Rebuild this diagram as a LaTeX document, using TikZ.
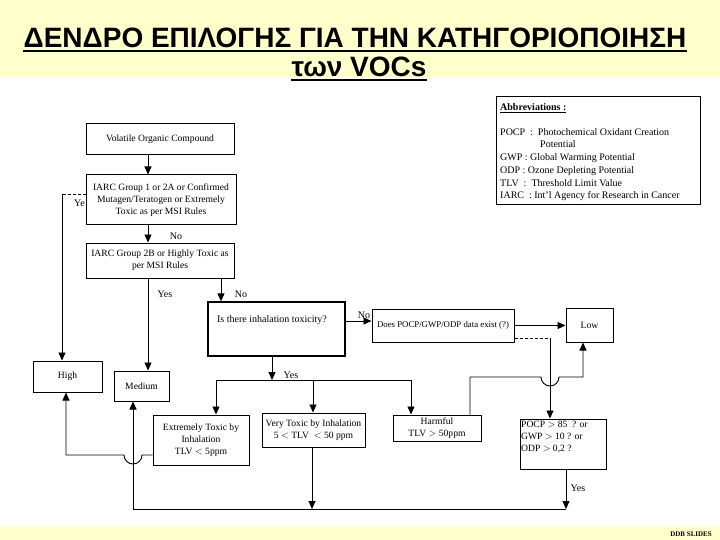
\documentclass[tikz,border=0pt]{standalone}
\usepackage{fontspec}
\setmainfont{Liberation Serif}
\newfontfamily\titlefont{Liberation Sans}
\usetikzlibrary{arrows.meta}
\definecolor{yellowbg}{HTML}{FFFFCC}
\begin{document}
\begin{tikzpicture}[x=1pt,y=-1pt,
  box/.style={draw, line width=1pt, fill=white, inner sep=1pt, align=center, font=\fontsize{9.6}{11.8}\selectfont},
  lab/.style={font=\fontsize{10}{11}\selectfont, inner sep=0pt},
  conn/.style={line width=0.9pt},
  arr/.style={conn, -{Triangle[length=8pt,width=7pt]}},
  abb/.style={anchor=base west, inner sep=0pt, font=\fontsize{10}{12}\selectfont},
  ttl/.style={anchor=base, inner sep=0pt, font=\titlefont\bfseries\fontsize{28}{30}\selectfont}]
\useasboundingbox (0,0) rectangle (720,540);
\fill[yellowbg] (0,0) rectangle (720,77);
\fill[yellowbg] (0,526) rectangle (720,540);
% title
\node[ttl] (t1) at (355,48) {ΔΕΝΔΡΟ ΕΠΙΛΟΓΗΣ ΓΙΑ ΤΗΝ ΚΑΤΗΓΟΡΙΟΠΟΙΗΣΗ};
\node[ttl] (t2) at (359,77) {των VOCs};
\draw[line width=1.8pt] ([yshift=-3pt]t1.base west) -- ([yshift=-3pt]t1.base east);
\draw[line width=1.8pt] ([yshift=-3pt]t2.base west) -- ([yshift=-3pt]t2.base east);
\node[anchor=base east, inner sep=0pt, font=\bfseries\fontsize{7}{8}\selectfont] (ddb) at (712,536) {DDB SLIDES};
% abbreviations
\node[draw, line width=0.8pt, minimum width=204pt, minimum height=108pt, inner sep=0pt] (abbr) at (598,150) {};
\node[abb] (abT) at (500,111) {\textbf{\underline{Abbreviations :}}};
\node[abb] (ab1) at (500,136) {POCP~~:~~Photochemical Oxidant Creation};
\node[abb] (ab1b) at (540,148) {Potential};
\node[abb] (ab2) at (500,161) {GWP : Global Warming Potential};
\node[abb] (ab3) at (500,174) {ODP : Ozone Depleting Potential};
\node[abb] (ab4) at (500,187) {TLV~~:~~Threshold Limit Value};
\node[abb] (ab5) at (500,199) {IARC~~: Int'l Agency for Research in Cancer};
% column coordinates
\coordinate (c62) at (62,194);
\coordinate (c148) at (148,0);
\coordinate (c221) at (221,0);
% boxes
\node[lab, anchor=west] (yeL) at (74,203) {Ye};
\node[box, minimum width=148pt, minimum height=31pt] (voc) at (160,139.5) {Volatile Organic Compound};
\node[box, minimum width=150pt, minimum height=50pt] (iarc1) at (161,200) {IARC Group 1 or 2A or Confirmed\\Mutagen/Teratogen or Extremely\\Toxic as per MSI Rules};
\node[box, minimum width=148pt, minimum height=35pt] (iarc2) at (160,260.5) {IARC Group 2B or Highly Toxic as\\per MSI Rules};
\node[box, line width=1.3pt, minimum width=137pt, minimum height=54pt] (inh) at (276.5,329) {};
\node[lab] (inhT) at (272,320) {Is there inhalation toxicity?};
\node[box, minimum width=142pt, minimum height=33pt, font=\fontsize{8.8}{10}\selectfont] (data) at (443,325.5) {Does POCP/GWP/ODP data exist (?)};
\node[box, minimum width=47pt, minimum height=34pt] (low) at (589.5,325) {Low};
\node[box, minimum width=69pt, minimum height=31pt] (high) at (67.5,376.5) {High};
\node[box, minimum width=55pt, minimum height=30pt] (med) at (141.5,386) {Medium};
\node[box, minimum width=96pt, minimum height=50pt] (ext) at (201,440) {Extremely Toxic by\\Inhalation\\TLV $<$ 5ppm};
\node[box, minimum width=103pt, minimum height=34pt] (vt) at (313.5,430) {Very Toxic by Inhalation\\5 $<$ TLV~ $<$ 50 ppm};
\node[box, minimum width=88pt, minimum height=26pt] (harm) at (437,428) {Harmful\\TLV $>$ 50ppm};
\node[box, minimum width=86pt, minimum height=50pt] (pocp) at (563,444) {};
\node[anchor=north west, inner sep=0pt, align=left, font=\fontsize{9.6}{12.2}\selectfont] (pocpT) at (521,421) {POCP $>$ 85~ ? or\\GWP $>$ 10 ? or\\ODP $>$ 0,2 ?};
% connectors
\draw[arr] (voc.south -| c148) -- (iarc1.north -| c148);
\draw[arr] (iarc1.south -| c148) -- (iarc2.north -| c148);
\node[lab] (noL1) at (176,236) {No};
\draw[conn, densely dashed] (iarc1.west |- c62) -- (c62);
\draw[arr] (c62) -- (high.north -| c62);
\draw[arr] (iarc2.south -| c148) -- (med.north -| c148);
\node[lab] (yesL1) at (165,294) {Yes};
\draw[arr] (iarc2.south -| c221) -- (inh.north -| c221);
\node[lab] (noL2) at (241,294) {No};
\coordinate (r321) at (0,321);
\draw[arr] (inh.east |- r321) -- (data.west |- r321);
\node[lab] (noL3) at (364,315) {No};
\draw[arr] (data.east) -- (low.west |- data.east);
% data -> pocp (dashed)
\coordinate (d1) at (550,338);
\draw[conn, densely dashed] (data.east |- d1) -- (d1);
\draw[arr] (d1) -- (pocp.north -| d1);
% harmful -> low with hop
\coordinate (h1) at (470,377);
\coordinate (h2) at (583,377);
\draw[arr] (harm.north -| h1) -- (h1) -- (541,377) arc (180:0:9) -- (h2) -- (low.south -| h2);
% inhalation yes bus
\coordinate (b1) at (272,380);
\draw[arr] (inh.south -| b1) -- (b1);
\node[lab] (yesL2) at (291,375) {Yes};
\coordinate (bl) at (216,380);
\coordinate (bm) at (313,380);
\coordinate (br) at (411,380);
\draw[conn] (bl) -- (br);
\draw[arr] (bl) -- (ext.north -| bl);
\draw[arr] (bm) -- (vt.north -| bm);
\draw[arr] (br) -- (harm.north -| br);
% extremely -> high with hop
\coordinate (e1) at (66,455);
\draw[arr] (ext.west |- e1) -- (142,455) arc (0:180:9) -- (e1) -- (high.south -| e1);
% bottom bus to medium
\coordinate (q1) at (312,509);
\coordinate (q2) at (566,509);
\coordinate (q0) at (133,509);
\draw[arr] (vt.south -| q1) -- (q1);
\draw[arr] (pocp.south -| q2) -- (q2);
\node[lab] (yesL3) at (578,488) {Yes};
\draw[arr] (q2) -- (q0) -- (med.south -| q0);
\end{tikzpicture}
\end{document}
